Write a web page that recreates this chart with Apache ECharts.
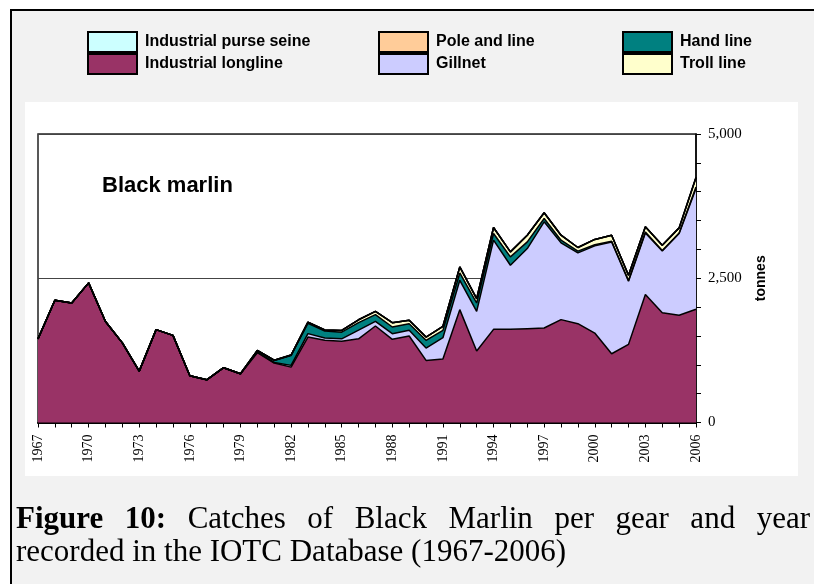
<!DOCTYPE html>
<html>
<head>
<meta charset="utf-8">
<script src="https://cdn.jsdelivr.net/npm/echarts@6/dist/echarts.min.js"></script>
<style>
html,body{margin:0;padding:0;background:#fff;overflow:hidden;}
#chart{position:absolute;left:0;top:0;width:814px;height:584px;}
</style>
</head>
<body>
<div id="chart"></div>
<script>
const years = [];
for (let y = 1967; y <= 2006; y++) years.push(String(y));

const longline = [1450,2120,2070,2420,1750,1380,890,1610,1510,810,740,950,845,
  1210,1030,960,1480,1424,1410,1450,1672,1441,1499,
  1076,1100,1956,1238,1614,1614,1625,1637,1783,1713,
  1550,1192,1354,2217,1904,1858,1962];
const gillnet = [0,0,0,0,0,0,0,0,0,0,0,0,0,
  10,10,30,60,40,40,150,80,98,98,
  214,370,509,689,1546,1112,1390,1841,1330,1227,
  1511,1938,1094,1069,1070,1418,2095];
const handline = [0,0,0,0,0,0,0,0,0,0,0,0,0,
  25,35,170,180,120,115,130,117,116,116,
  134,127,127,144,115,144,115,58,47,30,
  20,10,12,14,6,10,23];
const trollline = [0,0,0,0,0,0,0,0,0,0,0,0,0,
  5,5,10,20,20,30,50,57,75,58,
  57,70,105,76,105,87,116,98,86,63,
  92,106,92,91,93,87,168];
const purseSeine = [0,0,0,0,0,0,0,0,0,0,0,0,0,0,0,0,0,0,0,0,
  0,0,0,0,0,0,0,0,0,0,0,0,0,0,0,0,0,0,0,0];
const poleLine = [0,0,0,0,0,0,0,0,0,0,0,0,0,0,0,0,0,0,0,0,
  0,0,0,0,0,0,0,0,0,0,0,0,0,0,0,0,0,0,0,0];

const yTickLabels = [0, 2500, 5000];

const colors = {
  'Industrial purse seine': '#ccffff',
  'Industrial longline': '#993366',
  'Pole and line': '#ffcc99',
  'Gillnet': '#ccccff',
  'Hand line': '#008080',
  'Troll line': '#ffffcc'
};

const chart = echarts.init(document.getElementById('chart'), null, {renderer: 'canvas'});

function mkSeries(name, data) {
  return {
    name: name, type: 'line', stack: 'total', data: data,
    symbol: 'none', smooth: false,
    itemStyle: {color: colors[name]},
    lineStyle: {color: '#000', width: 1.5},
    areaStyle: {color: colors[name], opacity: 1},
    emphasis: {disabled: true},
    z: 2
  };
}

function mkLegend(left, names) {
  return {
    left: left, top: 26, orient: 'vertical', itemGap: 0,
    itemWidth: 49, itemHeight: 20, icon: 'rect', selectedMode: false,
    itemStyle: {borderColor: '#000', borderWidth: 2},
    textStyle: {fontFamily: 'Liberation Sans, Arial', fontWeight: 'bold', fontSize: 16, color: '#000', padding: [0,0,0,3]},
    data: names.map(n => ({name: n, itemStyle: {color: colors[n], borderColor: '#000', borderWidth: 2}}))
  };
}

// caption: first line justified between x=16 and x=810
const captionLine1 = [['Figure', true], ['10:', true], ['Catches', false], ['of', false],
  ['Black', false], ['Marlin', false], ['per', false], ['gear', false], ['and', false], ['year', false]];
const captionLine2 = 'recorded in the IOTC Database (1967-2006)';
const capSize = 31;
const capFamily = '"Liberation Serif", "Times New Roman", serif';

const ctx = document.createElement('canvas').getContext('2d');
function fontFor(bold) { return (bold ? 'bold ' : '') + capSize + 'px ' + capFamily; }
const widths = captionLine1.map(w => { ctx.font = fontFor(w[1]); return ctx.measureText(w[0]).width; });
const lineLeft = 16, lineRight = 810;
const totalW = widths.reduce((a, b) => a + b, 0);
const gap = (lineRight - lineLeft - totalW) / (captionLine1.length - 1);

const graphics = [
  {type: 'rect', z: -20, silent: true, shape: {x: 11, y: 10, width: 900, height: 700},
   style: {fill: '#f2f2f2', stroke: '#000', lineWidth: 2}},
  {type: 'rect', z: -19, silent: true, shape: {x: 25, y: 102, width: 773, height: 374},
   style: {fill: '#ffffff'}},
  {type: 'text', left: 102, top: 175, z: 10, silent: true,
   style: {text: 'Black marlin', font: 'bold 22px "Liberation Sans", Arial', fill: '#000'}}
];
let cx = lineLeft;
captionLine1.forEach((w, i) => {
  graphics.push({type: 'text', silent: true, x: cx, y: 520,
    style: {text: w[0], fill: '#000', textVerticalAlign: 'middle', font: fontFor(w[1])}});
  cx += widths[i] + gap;
});
graphics.push({type: 'text', silent: true, x: 16, y: 553,
  style: {text: captionLine2, fill: '#000', textVerticalAlign: 'middle', font: fontFor(false)}});

chart.setOption({
  backgroundColor: 'transparent',
  animation: false,
  legend: [
    mkLegend(82, ['Industrial purse seine', 'Industrial longline']),
    mkLegend(373, ['Pole and line', 'Gillnet']),
    mkLegend(617, ['Hand line', 'Troll line'])
  ],
  graphic: graphics,
  grid: {left: 38, right: 118, top: 134, bottom: 161.5, show: true,
    borderColor: '#222', borderWidth: 1.5, backgroundColor: 'transparent'},
  xAxis: {
    type: 'category', data: years, boundaryGap: false,
    axisLine: {lineStyle: {color: '#000', width: 2}},
    axisTick: {interval: 0, length: 5, lineStyle: {color: '#000', width: 1}},
    axisLabel: {interval: 2, rotate: 90, margin: 12, color: '#000',
      fontFamily: 'Liberation Serif, Times New Roman, serif', fontSize: 14},
    splitLine: {show: false}
  },
  yAxis: {
    type: 'value', position: 'right', min: 0, max: 5000, interval: 500,
    name: 'tonnes', nameLocation: 'middle', nameRotate: 90, nameGap: 58,
    nameTextStyle: {fontFamily: 'Liberation Sans, Arial', fontWeight: 'bold', fontSize: 14, color: '#000'},
    axisLine: {show: true, lineStyle: {color: '#000', width: 1.5}},
    axisTick: {show: true, length: 5, lineStyle: {color: '#000', width: 1}},
    axisLabel: {margin: 12, color: '#000', fontFamily: 'Liberation Serif, Times New Roman, serif', fontSize: 15,
      formatter: v => yTickLabels.indexOf(v) >= 0 ? v.toLocaleString('en-US') : ''},
    splitLine: {show: true, lineStyle: {color: ['#444', 'transparent', 'transparent', 'transparent', 'transparent'], width: 1}}
  },
  series: [
    mkSeries('Industrial longline', longline),
    mkSeries('Gillnet', gillnet),
    mkSeries('Hand line', handline),
    mkSeries('Troll line', trollline),
    mkSeries('Industrial purse seine', purseSeine),
    mkSeries('Pole and line', poleLine)
  ]
});
</script>
</body>
</html>
